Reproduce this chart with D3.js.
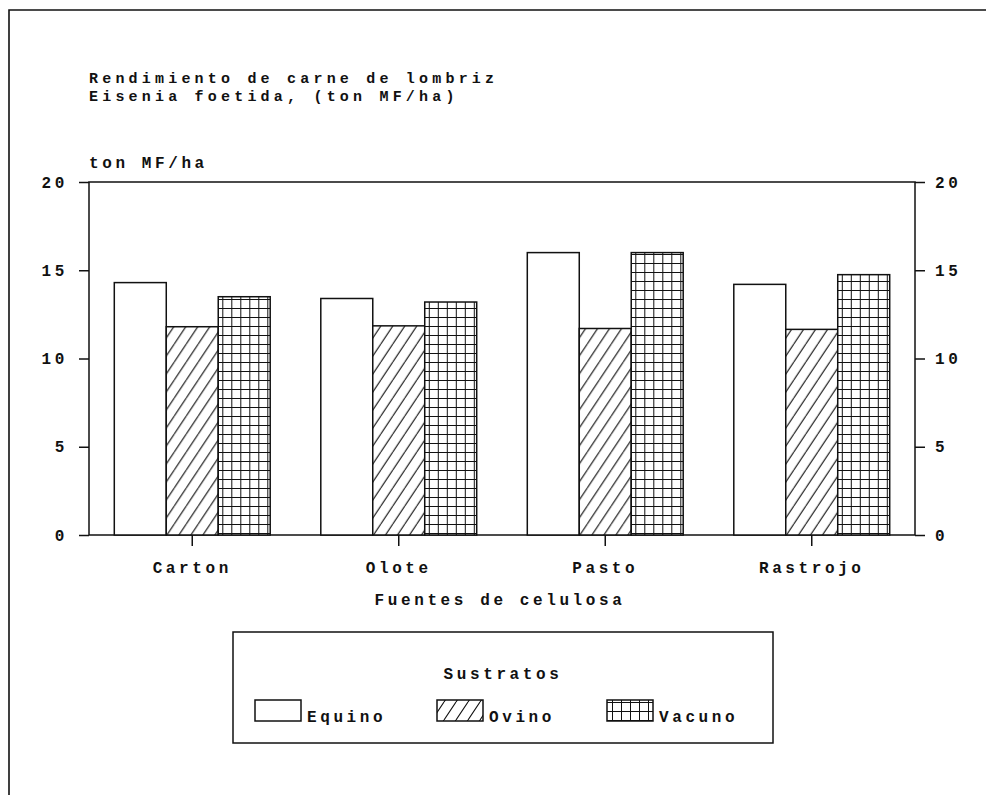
<!DOCTYPE html>
<html>
<head>
<meta charset="utf-8">
<script src="https://cdn.jsdelivr.net/npm/d3@7"></script>
<style>
  body { margin: 0; background: #fff; }
  svg text { font-family: "Liberation Mono", "DejaVu Sans Mono", monospace; font-size: 16px; font-weight: bold; fill: #111; letter-spacing: 3.6px; }
  svg text.title { font-size: 15px; letter-spacing: 4.2px; }
  .axis path, .axis line { stroke: #111; stroke-width: 1.5; }
</style>
</head>
<body>
<div id="chart"></div>
<script>
// datos (ton MF/ha)
const categories = ["Carton", "Olote", "Pasto", "Rastrojo"];
const seriesNames = ["Equino", "Ovino", "Vacuno"];
const equino = [14.3, 13.4, 16.0, 14.2];
const ovino = [11.8, 11.85, 11.7, 11.65];
const vacuno = [13.5, 13.2, 16.0, 14.75];
const yTicks = [0, 5, 10, 15, 20];

const W = 986, H = 795;
const margin = { top: 182, right: 71, bottom: 260, left: 89 };
const width = W - margin.left - margin.right;   // 826
const height = H - margin.top - margin.bottom;  // 353

const svg = d3.select("#chart").append("svg")
  .attr("width", W).attr("height", H);

// patrones de relleno
const defs = svg.append("defs");
const diag = defs.append("pattern").attr("id", "p-ovino")
  .attr("patternUnits", "userSpaceOnUse").attr("width", 12).attr("height", 18);
diag.append("rect").attr("width", 12).attr("height", 18).attr("fill", "#fff");
diag.append("path").attr("d", "M0,18 L12,0 M-12,18 L0,0 M12,18 L24,0")
  .attr("stroke", "#111").attr("stroke-width", 1.1);

const grid = defs.append("pattern").attr("id", "p-vacuno")
  .attr("patternUnits", "userSpaceOnUse").attr("width", 9).attr("height", 9);
grid.append("rect").attr("width", 9).attr("height", 9).attr("fill", "#fff");
grid.append("path").attr("d", "M0,0 H9 M0,0 V9")
  .attr("stroke", "#111").attr("stroke-width", 2);

const fills = ["#fff", "url(#p-ovino)", "url(#p-vacuno)"];

// marco exterior
svg.append("path").attr("d", "M9,795 V10 H986")
  .attr("fill", "none").attr("stroke", "#111").attr("stroke-width", 1.6);

// títulos
svg.append("text").attr("class", "title").attr("x", 89).attr("y", 83)
  .text("Rendimiento de carne de lombriz");
svg.append("text").attr("class", "title").attr("x", 89).attr("y", 101)
  .text("Eisenia foetida, (ton MF/ha)");
svg.append("text").attr("x", 89).attr("y", 168).text("ton MF/ha");

const g = svg.append("g").attr("transform", `translate(${margin.left},${margin.top})`);

// escalas
const x = d3.scaleBand().domain(categories).range([0, width])
  .paddingInner(0.245).paddingOuter(0.1225);
const xs = d3.scaleBand().domain(seriesNames).range([0, x.bandwidth()]);
const y = d3.scaleLinear().domain([0, 20]).range([height, 0]);

// caja del área de trazado
g.append("rect").attr("width", width).attr("height", height)
  .attr("fill", "none").attr("stroke", "#111").attr("stroke-width", 1.5);

// barras
const table = categories.map((c, i) => ({ cat: c, vals: [equino[i], ovino[i], vacuno[i]] }));
const groups = g.selectAll(".grp").data(table).enter().append("g")
  .attr("class", "grp")
  .attr("transform", d => `translate(${x(d.cat)},0)`);
groups.selectAll("rect")
  .data(d => d.vals.map((v, j) => ({ s: seriesNames[j], v: v, j: j })))
  .enter().append("rect")
  .attr("x", d => xs(d.s))
  .attr("y", d => y(d.v))
  .attr("width", xs.bandwidth())
  .attr("height", d => height - y(d.v))
  .attr("fill", d => fills[d.j])
  .attr("stroke", "#111").attr("stroke-width", 1.5);

// ejes
g.append("g").attr("class", "axis")
  .call(d3.axisLeft(y).tickValues(yTicks).tickSize(10).tickSizeOuter(0).tickPadding(11))
  .call(a => a.select(".domain").remove());
g.append("g").attr("class", "axis").attr("transform", `translate(${width},0)`)
  .call(d3.axisRight(y).tickValues(yTicks).tickSize(10).tickSizeOuter(0).tickPadding(10))
  .call(a => a.select(".domain").remove());
g.append("g").attr("class", "axis").attr("transform", `translate(0,${height})`)
  .call(d3.axisBottom(x).tickSize(11).tickSizeOuter(0).tickPadding(16))
  .call(a => a.select(".domain").remove());

g.selectAll(".axis text").attr("font-family", null).attr("font-size", null).attr("fill", "#111");

svg.append("text").attr("x", 500).attr("y", 605).attr("text-anchor", "middle")
  .text("Fuentes de celulosa");

// leyenda
const leg = svg.append("g");
leg.append("rect").attr("x", 233).attr("y", 632).attr("width", 540).attr("height", 111)
  .attr("fill", "none").attr("stroke", "#111").attr("stroke-width", 1.5);
leg.append("text").attr("x", 503).attr("y", 679).attr("text-anchor", "middle").text("Sustratos");
const legX = [255, 437, 607];
seriesNames.forEach((s, j) => {
  leg.append("rect").attr("x", legX[j]).attr("y", 700).attr("width", 46).attr("height", 21)
    .attr("fill", fills[j]).attr("stroke", "#111").attr("stroke-width", 1.5);
  leg.append("text").attr("x", legX[j] + 52).attr("y", 722).text(s);
});
</script>
</body>
</html>
